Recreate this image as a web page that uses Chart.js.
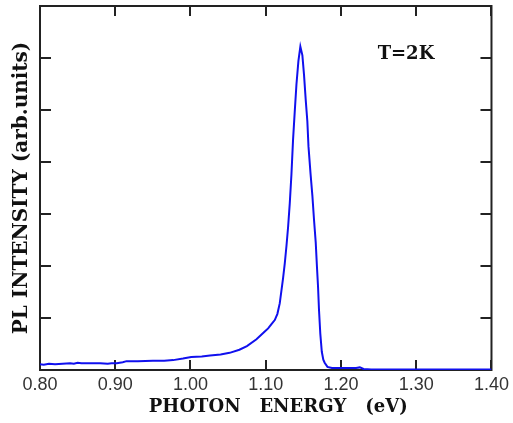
<!DOCTYPE html>
<html>
<head>
<meta charset="utf-8">
<script src="https://cdn.jsdelivr.net/npm/chart.js@4.4.1/dist/chart.umd.min.js"></script>
<style>
  html, body { margin: 0; padding: 0; background: #fff; }
  #wrap { width: 513px; height: 423px; }
</style>
</head>
<body>
<div id="wrap"><canvas id="plChart" width="513" height="423"></canvas></div>
<script>
// photon energy (eV)
const energy = [
  0.800, 0.805, 0.812, 0.820, 0.830, 0.840, 0.845, 0.850, 0.855, 0.870,
  0.880, 0.890, 0.895, 0.902, 0.910, 0.915, 0.930, 0.950, 0.965, 0.977,
  0.990, 1.001, 1.015, 1.026, 1.040, 1.052, 1.065, 1.075, 1.0877, 1.0987,
  1.1032, 1.1076, 1.112, 1.1155, 1.1186, 1.1208, 1.123, 1.1253, 1.1275, 1.1297,
  1.1319, 1.1341, 1.1363, 1.1385, 1.1408, 1.1434, 1.1460, 1.1487, 1.1509, 1.1531,
  1.1553, 1.1568, 1.1595, 1.1620, 1.1641, 1.1664, 1.1680, 1.1695, 1.1708, 1.1725,
  1.1745, 1.1765, 1.1783, 1.1820, 1.188, 1.200, 1.210, 1.220, 1.225, 1.230,
  1.240, 1.400
];
// PL intensity (arb. units)
const intensity = [
  0.11, 0.10, 0.12, 0.11, 0.12, 0.13, 0.12, 0.14, 0.13, 0.13,
  0.13, 0.12, 0.13, 0.13, 0.15, 0.17, 0.17, 0.18, 0.18, 0.19,
  0.22, 0.25, 0.26, 0.28, 0.30, 0.33, 0.39, 0.46, 0.59, 0.74,
  0.80, 0.88, 0.96, 1.08, 1.28, 1.52, 1.76, 2.05, 2.38, 2.75,
  3.20, 3.75, 4.43, 4.96, 5.49, 5.94, 6.22, 6.05, 5.67, 5.20,
  4.78, 4.30, 3.78, 3.35, 2.90, 2.46, 2.00, 1.60, 1.15, 0.70,
  0.35, 0.20, 0.14, 0.06, 0.04, 0.04, 0.04, 0.04, 0.05, 0.02,
  0.01, 0.01
];
// tick positions
const xTicks = [0.8, 0.9, 1.0, 1.1, 1.2, 1.3, 1.4];
const yTicks = [1, 2, 3, 4, 5, 6];

const points = energy.map((e, i) => ({ x: e, y: intensity[i] }));

// frame + inward ticks on all four sides, plus the T=2K note
const framePlugin = {
    id: 'frame',
    beforeDatasetsDraw(chart) {
        const { ctx, chartArea: a, scales } = chart;
        ctx.save();
        ctx.strokeStyle = '#222';
        ctx.lineWidth = 2;
        ctx.strokeRect(a.left, a.top, a.right - a.left, a.bottom - a.top);
        ctx.beginPath();
        xTicks.forEach(v => {
            const px = Math.round(scales.x.getPixelForValue(v));
            ctx.moveTo(px, a.bottom); ctx.lineTo(px, a.bottom - 10);
            ctx.moveTo(px, a.top); ctx.lineTo(px, a.top + 10);
        });
        yTicks.forEach(v => {
            const py = Math.round(scales.y.getPixelForValue(v));
            ctx.moveTo(a.left, py); ctx.lineTo(a.left + 11, py);
            ctx.moveTo(a.right, py); ctx.lineTo(a.right - 11, py);
        });
        ctx.stroke();
        ctx.fillStyle = '#111';
        ctx.font = 'bold 18px "DejaVu Serif"';
        ctx.textBaseline = 'middle';
        ctx.textAlign = 'left';
        ctx.fillText('T=2K', scales.x.getPixelForValue(1.2487), scales.y.getPixelForValue(6.07));
        ctx.restore();
    }
};

new Chart(document.getElementById('plChart').getContext('2d'), {
    type: 'line',
    data: {
        datasets: [{
            data: points,
            borderColor: '#1010ee',
            borderWidth: 2,
            pointRadius: 0,
            tension: 0,
            fill: false
        }]
    },
    options: {
        responsive: false,
        devicePixelRatio: 1,
        animation: false,
        layout: { padding: { left: 10, right: 0, top: 6, bottom: 8 } },
        plugins: { legend: { display: false }, tooltip: { enabled: false } },
        scales: {
            x: {
                type: 'linear', min: 0.8, max: 1.4,
                afterBuildTicks: s => { s.ticks = xTicks.map(v => ({ value: v })); },
                ticks: { color: '#333', font: { family: 'Liberation Sans', size: 18 }, padding: 4,
                         maxRotation: 0, callback: v => v.toFixed(2) },
                grid: { display: false, drawTicks: false },
                border: { display: false },
                title: { display: true, text: '    PHOTON   ENERGY   (eV)', color: '#111',
                         font: { family: 'DejaVu Serif', size: 18, weight: 'bold', lineHeight: 0.8 },
                         padding: { top: 1, bottom: 0 } }
            },
            y: {
                min: 0, max: 7,
                ticks: { display: false },
                grid: { display: false, drawTicks: false },
                border: { display: false },
                title: { display: true, text: 'PL INTENSITY (arb.units)', color: '#111',
                         font: { family: 'DejaVu Serif', size: 20, weight: 'bold' }, padding: { top: 0, bottom: 6 } }
            }
        }
    },
    plugins: [framePlugin]
});
</script>
</body>
</html>
